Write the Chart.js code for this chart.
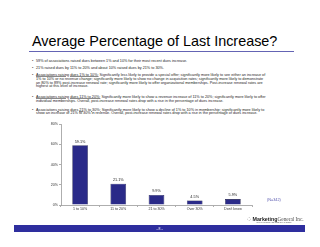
<!DOCTYPE html>
<html>
<head>
<meta charset="utf-8">
<script src="https://cdn.jsdelivr.net/npm/chart.js"></script>
<style>
  html, body { margin: 0; padding: 0; background: #fff; }
  body { width: 320px; height: 247px; position: relative; overflow: hidden; font-family: "Liberation Sans", Arial, sans-serif; }
  #title { position: absolute; left: 32px; top: 33px; font-size: 14.4px; color: #000; white-space: nowrap; }
  #rule { position: absolute; left: 29px; top: 51px; width: 265px; height: 1px; background: #6464b4; }
  .bullet { position: absolute; left: 36px; font-size: 3.75px; line-height: 3.8px; color: #222; white-space: nowrap; }
  .bullet::before { content: "\2022"; position: absolute; left: -4px; }
  .bullet u { text-decoration: underline; text-decoration-color: #8a8a8a; text-decoration-thickness: 0.4px; text-underline-offset: 0.3px; }
  #wrap { position: absolute; left: 0; top: 116px; width: 320px; height: 100px; }
  #n { position: absolute; left: 267px; top: 198px; font-size: 3.8px; color: #5a5ab0; }
  #logo { position: absolute; left: 247px; top: 214.5px; font-size: 5.3px; color: #333; white-space: nowrap; }
  #logo b { font-weight: 700; color: #222; }
  #logo span.g { font-family: "Liberation Serif", serif; color: #555; }
  #tag { position: absolute; left: 256px; top: 221.5px; font-size: 1.6px; color: #555; white-space: nowrap; }
  #bar { position: absolute; left: 14px; top: 225px; width: 291px; height: 7px; background: #2e2e9e; }
  #page { position: absolute; left: 0; width: 100%; top: 1.5px; text-align: center; font-size: 3.5px; color: #fff; }
</style>
</head>
<body>
<div id="title">Average Percentage of Last Increase?</div>
<div id="rule"></div>

<div class="bullet" style="top:60px">59% of associations raised dues between 1% and 10% for their most recent dues increase.</div>
<div class="bullet" style="top:67px">21% raised dues by 11% to 20% and about 10% raised dues by 21% to 30%.</div>
<div class="bullet" style="top:74px"><u>Associations raising dues 1% to 10%:</u> Significantly less likely to provide a special offer; significantly more likely to see either an increase of<br>1% to 10% or no revenue change; significantly more likely to show no change in acquisition rates; significantly more likely to demonstrate<br>an 80% to 89% post-increase renewal rate; significantly more likely to offer organizational memberships. Post-increase renewal rates are<br>highest at this level of increase.</div>
<div class="bullet" style="top:96px"><u>Associations raising dues 11% to 20%:</u> Significantly more likely to show a revenue increase of 11% to 20%; significantly more likely to offer<br>individual memberships. Overall, post-increase renewal rates drop with a rise in the percentage of dues increase.</div>
<div class="bullet" style="top:108.5px"><u>Associations raising dues 21% to 30%:</u> Significantly more likely to show a decline of 1% to 10% in membership; significantly more likely to<br>show an increase of 21% to 30% in revenue. Overall, post-increase renewal rates drop with a rise in the percentage of dues increase.</div>

<div id="wrap"><canvas id="chart" width="320" height="100"></canvas></div>
<div id="n">(N=342)</div>
<div id="logo">&#8280; <b>Marketing</b><span class="g">General Inc.</span></div>
<div id="tag">YOUR MARKETING AND RESEARCH PARTNER</div>
<div id="bar"><div id="page">- 8 -</div></div>

<script>
const categories = ["1 to 10%", "11 to 20%", "21 to 30%", "Over 30%", "Don't know"];
const percentages = [59.1, 21.1, 9.9, 4.5, 5.9];
const yTicks = [0, 20, 40, 60, 80];

// 막대 값 라벨
const valueLabels = {
  id: "valueLabels",
  afterDatasetsDraw: (chart) => {
    const { ctx } = chart;
    const meta = chart.getDatasetMeta(0);
    ctx.save();
    ctx.font = '3.8px "Liberation Sans", Arial, sans-serif';
    ctx.fillStyle = "#222";
    ctx.textAlign = "center";
    ctx.textBaseline = "bottom";
    meta.data.forEach((bar, i) => {
      ctx.fillText(percentages[i].toFixed(1) + "%", bar.x, bar.y - 1.8);
    });
    ctx.restore();
  },
};

const barFill = (context) => {
  const el = context.element;
  const { ctx } = context.chart;
  if (!el || el.width === undefined) return "#2a2a88";
  const x0 = el.x - el.width / 2;
  const g = ctx.createLinearGradient(x0, 0, x0 + el.width, 0);
  g.addColorStop(0, "#1c1c70");
  g.addColorStop(0.35, "#3838a6");
  g.addColorStop(1, "#15155e");
  return g;
};

const canvas = document.getElementById("chart");
new Chart(canvas.getContext("2d"), {
  type: "bar",
  data: {
    labels: categories,
    datasets: [{
      data: percentages,
      backgroundColor: barFill,
      borderColor: "#0c0c3a",
      borderWidth: 0.6,
      barPercentage: 0.41,
      categoryPercentage: 1,
    }],
  },
  plugins: [valueLabels],
  options: {
    responsive: false,
    animation: false,
    devicePixelRatio: 1,
    layout: { padding: { left: 0, top: 8, right: 68, bottom: 0 } },
    plugins: { legend: { display: false }, tooltip: { enabled: false } },
    scales: {
      y: {
        min: 0,
        max: 80,
        afterBuildTicks: (scale) => { scale.ticks = yTicks.map((v) => ({ value: v })); },
        afterFit: (scale) => { scale.width = 61; },
        border: { color: "#999", width: 0.8 },
        grid: { drawOnChartArea: false, tickLength: 2, color: "#999", lineWidth: 0.8 },
        ticks: {
          padding: 1,
          color: "#333",
          font: { size: 3.6, family: '"Liberation Sans", Arial, sans-serif' },
          callback: (v) => v + "%",
        },
      },
      x: {
        afterFit: (scale) => { scale.height = 11; },
        border: { color: "#999", width: 0.8 },
        grid: { offset: true, drawOnChartArea: false, tickLength: 2, color: "#999", lineWidth: 0.8 },
        ticks: {
          padding: 0,
          maxRotation: 0,
          autoSkip: false,
          color: "#333",
          font: { size: 3.6, family: '"Liberation Sans", Arial, sans-serif' },
        },
      },
    },
  },
});
</script>
</body>
</html>
